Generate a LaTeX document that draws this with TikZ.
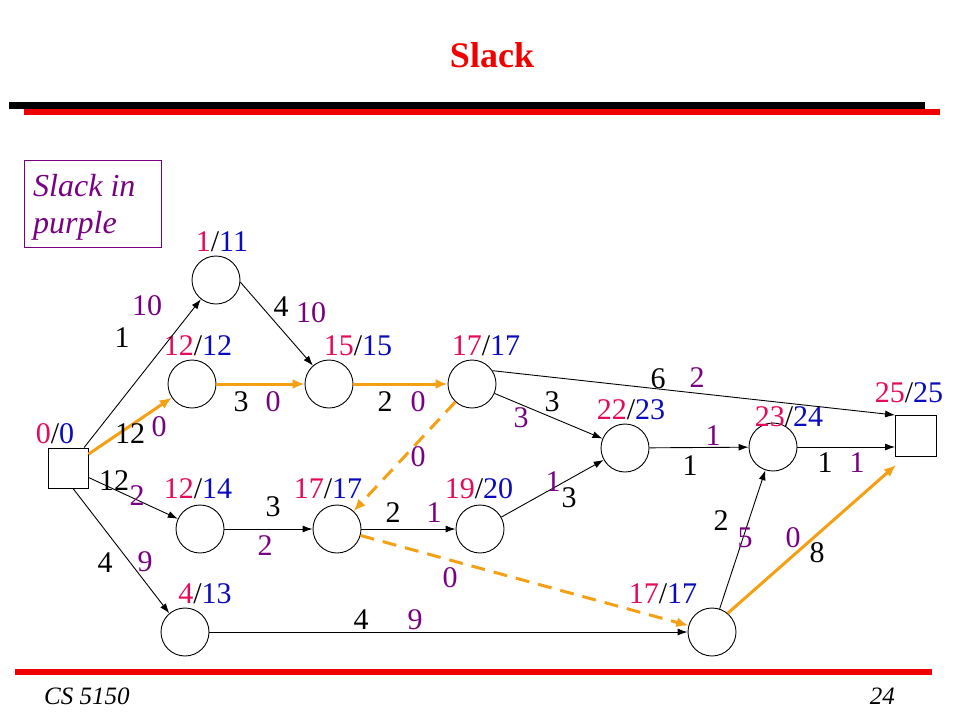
\documentclass[tikz,border=0pt]{standalone}
\usepackage{fontspec}
\setmainfont{Liberation Serif}
\usetikzlibrary{arrows.meta}
\definecolor{nred}{RGB}{230,10,90}
\definecolor{nblue}{RGB}{10,10,190}
\definecolor{slk}{RGB}{120,0,130}
\definecolor{critc}{RGB}{245,160,20}
\definecolor{rulered}{RGB}{240,0,0}
\begin{document}
\begin{tikzpicture}[x=1pt,y=-1pt,
  ev/.style={circle,draw,line width=0.9pt,minimum size=48pt,inner sep=0pt},
  term/.style={rectangle,draw,line width=0.9pt,minimum size=40pt,inner sep=0pt},
  act/.style={draw,line width=0.9pt,-{Latex[length=10pt,width=7pt]}},
  critp/.style={draw=critc,line width=3pt,-{Latex[length=12pt,width=10pt]}},
  critd/.style={critp,dash pattern=on 14pt off 9pt},
  wt/.style={font=\fontsize{30}{32}\selectfont,inner sep=0pt},
  sl/.style={wt,text=slk},
  tm/.style={font=\fontsize{30}{32}\selectfont,inner sep=0pt},
  legt/.style={anchor=base west,inner sep=0pt,text=slk,font=\fontsize{32}{36}\selectfont\itshape}
]
\useasboundingbox (0,0) rectangle (960,720);
% title and rules
\node[inner sep=0pt,text=rulered,font=\fontsize{36}{38}\selectfont\bfseries] (title) at (492,55) {Slack};
\draw[rulered,line width=6pt] (24,112) -- (940,112);
\draw[black,line width=7pt] (9,105.5) -- (925,105.5);
\draw[rulered,line width=6pt] (15,671.5) -- (932,671.5);
\node[inner sep=0pt,anchor=west,font=\fontsize{25}{27}\selectfont\itshape] (foot) at (44,696) {CS 5150};
\node[inner sep=0pt,anchor=east,font=\fontsize{25}{27}\selectfont\itshape] (pg) at (895,696) {24};
% legend
\node[draw=slk,line width=0.9pt,minimum width=137pt,minimum height=87pt,inner sep=0pt] (legbox) at (92.5,203.5) {};
\node[legt] (legtxt1) at (33,196) {Slack in};
\node[legt] (legtxt2) at (33,233) {purple};
% events
\node[term] (S) at (68,468) {};
\node[ev] (A) at (216,280) {};
\node[ev] (B) at (192,384) {};
\node[ev] (C) at (329,384) {};
\node[ev] (D) at (472,384) {};
\node[ev] (E) at (200,529) {};
\node[ev] (F) at (337,529) {};
\node[ev] (G) at (480,529) {};
\node[ev] (H) at (625,448) {};
\node[ev] (I) at (773,447) {};
\node[ev] (J) at (712,632) {};
\node[ev] (K) at (185,632) {};
\node[term,minimum size=41pt] (T) at (916,436) {};
\coordinate (Tin) at (896,465);
% event labels
\node[tm] (lS) at (55,434) {\textcolor{nred}{0}/\textcolor{nblue}{0}};
\node[tm] (lA) at (222,242) {\textcolor{nred}{1}/\textcolor{nblue}{11}};
\node[tm] (lB) at (198,346) {\textcolor{nred}{12}/\textcolor{nblue}{12}};
\node[tm] (lC) at (358,346) {\textcolor{nred}{15}/\textcolor{nblue}{15}};
\node[tm] (lD) at (486,346) {\textcolor{nred}{17}/\textcolor{nblue}{17}};
\node[tm] (lE) at (198,489) {\textcolor{nred}{12}/\textcolor{nblue}{14}};
\node[tm] (lF) at (328,489) {\textcolor{nred}{17}/\textcolor{nblue}{17}};
\node[tm] (lG) at (479,489) {\textcolor{nred}{19}/\textcolor{nblue}{20}};
\node[tm] (lH) at (631,410) {\textcolor{nred}{22}/\textcolor{nblue}{23}};
\node[tm] (lI) at (789,417) {\textcolor{nred}{23}/\textcolor{nblue}{24}};
\node[tm] (lT) at (909,393) {\textcolor{nred}{25}/\textcolor{nblue}{25}};
\node[tm] (lJ) at (663,594) {\textcolor{nred}{17}/\textcolor{nblue}{17}};
\node[tm] (lK) at (205,594) {\textcolor{nred}{4}/\textcolor{nblue}{13}};
% activities
\draw[act] (S) -- (A);
\draw[critp] (S) -- (B);
\draw[act] (S) -- (E);
\draw[act] ([xshift=5pt]S.south) -- (K.130);
\draw[act] (A.-5) -- (C);
\draw[critp] (B) -- (C);
\draw[critp] (C) -- (D);
\draw[critd] (D) -- (F);
\draw[act] (D) -- (H);
\draw[act] (D.33) -- (T.north west);
\draw[act] (E) -- (F);
\draw[act] (F) -- (G);
\draw[critd] (F) -- (J);
\draw[act] (G) -- (H);
\draw[act] (H) -- (I);
\draw[act] (I) -- (I -| T.west);
\draw[act] (J) -- (I);
\draw[critp] (J.50) -- (Tin);
\draw[act] (K) -- (J);
% durations and slack
\node[wt] (d1) at (122,338) {1};   \node[sl] (s1) at (147,306) {10};
\node[wt] (d2) at (281,307) {4};   \node[sl] (s2) at (311,313) {10};
\node[wt] (d3) at (130,434) {12};  \node[sl] (s3) at (159,427) {0};
\node[wt] (d4) at (241,402) {3};   \node[sl] (s4) at (273,402) {0};
\node[wt] (d5) at (385,402) {2};   \node[sl] (s5) at (418,402) {0};
\node[sl] (s6) at (418,457) {0};
\node[wt] (d7) at (552,402) {3};   \node[sl] (s7) at (521,418) {3};
\node[wt] (d8) at (658,379) {6};   \node[sl] (s8) at (697,378) {2};
\node[wt] (d9) at (114,481) {12};  \node[sl] (s9) at (137,496) {2};
\node[wt] (d10) at (273,507) {3};  \node[sl] (s10) at (265,546) {2};
\node[wt] (d11) at (393,513) {2};  \node[sl] (s11) at (434,513) {1};
\node[sl] (s12) at (553,482) {1};  \node[wt] (d12) at (569,498) {3};
\node[sl] (s13) at (450,578) {0};
\node[wt] (d14) at (105,563) {4};  \node[sl] (s14) at (145,562) {9};
\node[wt] (d15) at (361,620) {4};  \node[sl] (s15) at (415,620) {9};
\node[sl] (s16) at (713,436) {1};  \node[wt] (d16) at (690,466) {1};
\node[wt] (d17) at (825,463) {1};  \node[sl] (s17) at (857,463) {1};
\node[wt] (d18) at (721,521) {2};  \node[sl] (s18) at (745,538) {5};
\node[sl] (s19) at (793,538) {0};  \node[wt] (d19) at (817,553) {8};
\end{tikzpicture}
\end{document}
